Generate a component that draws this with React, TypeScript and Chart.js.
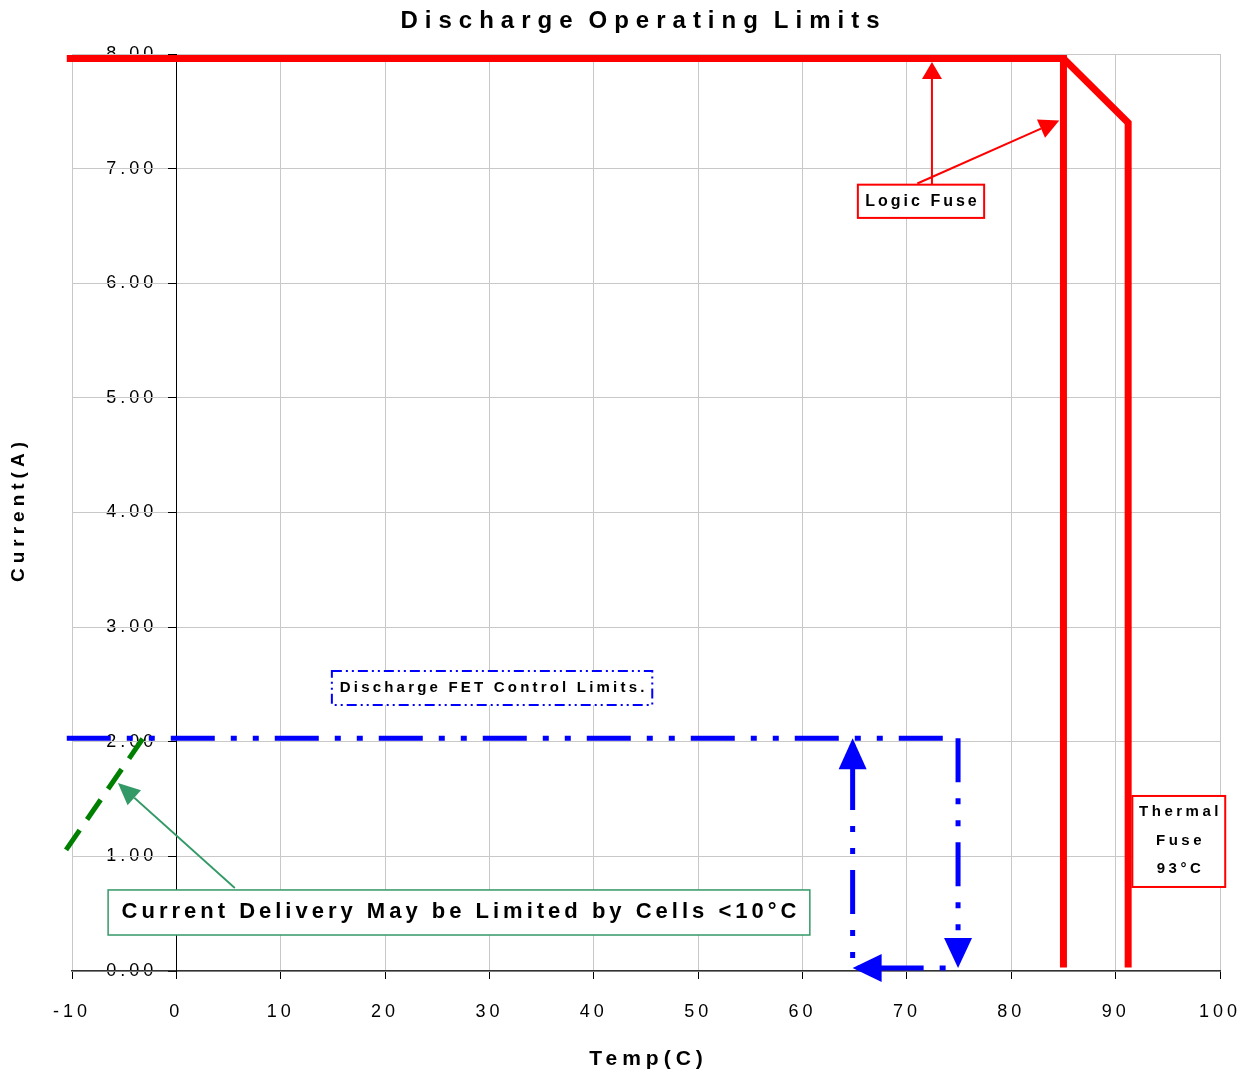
import React, { useEffect, useRef } from 'react';
import { Chart, registerables } from 'chart.js';

Chart.register(...registerables);

// ---- data ----
const xMin = -10;
const xMax = 100;
const xStep = 10;
const yMin = 0;
const yMax = 8;
const yStep = 1;

// Logic fuse limit (red): horizontal current limit, then vertical cut at 85 C
const logicFuseLine = [
  { x: -10.5, y: 7.96 },
  { x: 85, y: 7.96 },
  { x: 85, y: 0.03 },
];
// Thermal fuse limit (red): derated slope then vertical cut
const thermalFuseLine = [
  { x: 85, y: 7.96 },
  { x: 91.2, y: 7.4 },
  { x: 91.2, y: 0.03 },
];
// Discharge FET control limits (blue dash-dot)
const fetTopLine = [
  { x: -10.5, y: 2.03 },
  { x: 74.9, y: 2.03 },
];
const fetDownLine = [
  { x: 74.9, y: 2.03 },
  { x: 74.9, y: 0.1 },
];
const fetReturnLine = [
  { x: 64.8, y: 0.026 },
  { x: 74.9, y: 0.026 },
];
const fetUpLine = [
  { x: 64.8, y: 0.026 },
  { x: 64.8, y: 2.0 },
];
// Cell limited region (green dashed)
const cellLimitLine = [
  { x: -10.57, y: 1.056 },
  { x: -3.2, y: 2.03 },
];

const titleText = 'Discharge Operating Limits';
const xTitleText = 'Temp(C)';
const yTitleText = 'Current(A)';
const logicFuseText = 'Logic Fuse';
const thermalFuseText = ['Thermal', 'Fuse', '93°C'];
const fetText = 'Discharge FET Control Limits.';
const cellText = 'Current Delivery May be Limited by Cells <10°C';

const FONT = '"Liberation Sans", Arial, Helvetica, sans-serif';
const RED = '#ff0000';
const BLUE = '#0000ff';
const GREEN_DASH = '#008000';
const GREEN_NOTE = '#339966';
const BLUE_DASH = [44, 16, 6, 16, 6, 16];

function spacedText(
  ctx: CanvasRenderingContext2D,
  text: string,
  x: number,
  y: number,
  font: string,
  spacing: number,
  align: 'left' | 'center' | 'right' = 'center',
  color = '#000'
) {
  ctx.save();
  ctx.font = font;
  (ctx as any).letterSpacing = spacing + 'px';
  ctx.fillStyle = color;
  ctx.textBaseline = 'middle';
  ctx.textAlign = 'left';
  const w = ctx.measureText(text).width - spacing;
  const sx = align === 'center' ? x - w / 2 : align === 'right' ? x - w : x;
  ctx.fillText(text, sx, y);
  ctx.restore();
}

function arrowHead(
  ctx: CanvasRenderingContext2D,
  fx: number,
  fy: number,
  tx: number,
  ty: number,
  len: number,
  half: number,
  color: string
) {
  const a = Math.atan2(ty - fy, tx - fx);
  const bx = tx - len * Math.cos(a);
  const by = ty - len * Math.sin(a);
  ctx.save();
  ctx.fillStyle = color;
  ctx.beginPath();
  ctx.moveTo(tx, ty);
  ctx.lineTo(bx + half * Math.sin(a), by - half * Math.cos(a));
  ctx.lineTo(bx - half * Math.sin(a), by + half * Math.cos(a));
  ctx.closePath();
  ctx.fill();
  ctx.restore();
}

function arrow(
  ctx: CanvasRenderingContext2D,
  fx: number,
  fy: number,
  tx: number,
  ty: number,
  len: number,
  half: number,
  color: string,
  lw: number
) {
  const a = Math.atan2(ty - fy, tx - fx);
  const bx = tx - len * Math.cos(a);
  const by = ty - len * Math.sin(a);
  ctx.save();
  ctx.strokeStyle = color;
  ctx.lineWidth = lw;
  ctx.beginPath();
  ctx.moveTo(fx, fy);
  ctx.lineTo(bx, by);
  ctx.stroke();
  ctx.restore();
  arrowHead(ctx, fx, fy, tx, ty, len, half, color);
}

function box(
  ctx: CanvasRenderingContext2D,
  x1: number,
  y1: number,
  x2: number,
  y2: number,
  color: string,
  lw: number,
  dash: number[] = []
) {
  ctx.save();
  ctx.fillStyle = '#ffffff';
  ctx.fillRect(x1, y1, x2 - x1, y2 - y1);
  ctx.strokeStyle = color;
  ctx.lineWidth = lw;
  ctx.setLineDash(dash);
  ctx.strokeRect(x1, y1, x2 - x1, y2 - y1);
  ctx.restore();
}

function wordsText(
  ctx: CanvasRenderingContext2D,
  text: string,
  cx: number,
  y: number,
  font: string,
  spacing: number,
  wordGap: number
) {
  // letter-spaced words with a tighter gap between words
  ctx.save();
  ctx.font = font;
  (ctx as any).letterSpacing = spacing + 'px';
  const words = text.split(' ');
  const widths = words.map((w) => ctx.measureText(w).width - spacing);
  const total = widths.reduce((a, b) => a + b, 0) + wordGap * (words.length - 1);
  let x = cx - total / 2;
  ctx.fillStyle = '#000';
  ctx.textBaseline = 'middle';
  ctx.textAlign = 'left';
  words.forEach((w, i) => {
    ctx.fillText(w, x, y);
    x += widths[i] + wordGap;
  });
  ctx.restore();
}

const decorPlugin = {
  id: 'decor',
  beforeDraw(chart: any) {
    const ctx: CanvasRenderingContext2D = chart.ctx;
    (ctx as any).letterSpacing = '4px';
    const xs = chart.scales.x;
    const ys = chart.scales.y;
    const axisX = xs.getPixelForValue(0);
    // y tick labels, drawn from the y scale's own ticks
    ys.ticks.forEach((t: any) => {
      spacedText(
        ctx,
        Number(t.value).toFixed(2),
        axisX - 23,
        ys.getPixelForValue(t.value),
        `18px ${FONT}`,
        4,
        'right'
      );
    });
  },
  afterDatasetsDraw(chart: any) {
    const ctx: CanvasRenderingContext2D = chart.ctx;
    const xs = chart.scales.x;
    const ys = chart.scales.y;
    const px = (v: number) => xs.getPixelForValue(v);
    const py = (v: number) => ys.getPixelForValue(v);

    // Blue arrowheads of the FET control loop
    arrowHead(ctx, px(64.8), py(0.5), px(64.8), py(2.03), 31, 14, BLUE);
    arrowHead(ctx, px(74.9), py(1), px(74.9), py(0.026), 30, 14, BLUE);
    arrowHead(ctx, px(74.9), py(0.026), px(64.8), py(0.026), 29, 14, BLUE);

    // Logic fuse note
    arrow(ctx, px(72.4), py(6.86), px(72.4), py(7.93), 17, 10, RED, 2);
    arrow(ctx, px(71.0), py(6.87), px(84.6), py(7.42), 20, 10, RED, 2);
    box(ctx, px(65.3), py(6.86), px(77.4), py(6.57), RED, 2);
    spacedText(ctx, logicFuseText, (px(65.3) + px(77.4)) / 2, py(6.715), `bold 16px ${FONT}`, 3);

    // Thermal fuse note
    box(ctx, px(91.6), py(1.527), px(100.5), py(0.733), RED, 2);
    const tfY = [1.387, 1.134, 0.89];
    thermalFuseText.forEach((s, i) => {
      spacedText(ctx, s, (px(91.6) + px(100.5)) / 2, py(tfY[i]), `bold 15px ${FONT}`, 3.5);
    });

    // FET note
    box(ctx, px(14.9), py(2.618), px(45.6), py(2.321), BLUE, 2, [10, 4, 2, 4, 2, 4]);
    spacedText(ctx, fetText, (px(14.9) + px(45.6)) / 2, py(2.47), `bold 15px ${FONT}`, 3.2);

    // Cell note
    arrow(ctx, px(5.6), py(0.724), px(-5.6), py(1.64), 22, 10, GREEN_NOTE, 1.8);
    box(ctx, px(-6.54), py(0.707), px(60.7), py(0.314), GREEN_NOTE, 1.5);
    spacedText(ctx, cellText, (px(-6.54) + px(60.7)) / 2, py(0.515), `bold 22px ${FONT}`, 4);

    // Titles
    wordsText(ctx, titleText, 640, 21, `bold 24px ${FONT}`, 7, 16);
    spacedText(ctx, xTitleText, (chart.chartArea.left + chart.chartArea.right) / 2, 1059, `bold 21px ${FONT}`, 5);
    ctx.save();
    ctx.translate(19, 512);
    ctx.rotate(-Math.PI / 2);
    spacedText(ctx, yTitleText, 0, 0, `bold 19px ${FONT}`, 5);
    ctx.restore();
  },
};

function lineDs(data: any[], color: string, width: number, dash: number[] = [], offset = 0) {
  return {
    data,
    showLine: true,
    borderColor: color,
    backgroundColor: color,
    borderWidth: width,
    borderDash: dash,
    borderDashOffset: offset,
    borderCapStyle: 'butt',
    borderJoinStyle: 'miter',
    pointRadius: 0,
    pointHoverRadius: 0,
    tension: 0,
    fill: false,
    clip: false,
  };
}

export default function App() {
  const ref = useRef<HTMLCanvasElement | null>(null);
  useEffect(() => {
    if (!ref.current) return;
    const chart = new Chart(ref.current, {
      type: 'scatter',
      data: {
        datasets: [
          lineDs(cellLimitLine, GREEN_DASH, 5, [24, 13]),
          lineDs(logicFuseLine, RED, 7),
          lineDs(thermalFuseLine, RED, 7),
          lineDs(fetTopLine, BLUE, 5, BLUE_DASH, 0),
          lineDs(fetDownLine, BLUE, 5, BLUE_DASH, 0),
          lineDs(fetReturnLine, BLUE, 5, BLUE_DASH, 77),
          lineDs(fetUpLine, BLUE, 5, BLUE_DASH, 50),
        ] as any,
      },
      options: {
        responsive: false,
        animation: false,
        devicePixelRatio: 1,
        events: [],
        layout: { padding: { left: 72, right: 29, top: 54, bottom: 0 } },
        plugins: {
          legend: { display: false },
          tooltip: { enabled: false },
          title: { display: false },
        },
        scales: {
          x: {
            type: 'linear',
            position: 'bottom',
            min: xMin,
            max: xMax,
            ticks: {
              stepSize: xStep,
              color: '#000',
              font: { family: FONT, size: 18 },
              padding: 22,
              maxRotation: 0,
              autoSkip: false,
            },
            grid: { color: '#c8c8c8', lineWidth: 1, tickLength: 8, tickColor: '#000', drawTicks: true },
            border: { color: '#333', width: 1.5 },
            afterFit: (s: any) => {
              s.height = 105;
              s.paddingLeft = 0;
              s.paddingRight = 0;
            },
          },
          y: {
            type: 'linear',
            position: { x: 0 },
            min: yMin,
            max: yMax,
            ticks: { stepSize: yStep, display: false },
            grid: { color: '#c8c8c8', lineWidth: 1, tickLength: 8, tickColor: '#000', drawTicks: true },
            border: { color: '#000', width: 1 },
            afterFit: (s: any) => {
              s.paddingTop = 0;
              s.paddingBottom = 0;
            },
          },
        } as any,
      },
      plugins: [decorPlugin],
    });
    return () => chart.destroy();
  }, []);
  return (
    <div style={{ position: 'fixed', left: 0, top: 0, width: 1249, height: 1076, background: '#fff' }}>
      <canvas ref={ref} width={1249} height={1076} style={{ display: 'block', width: 1249, height: 1076 }} />
    </div>
  );
}
